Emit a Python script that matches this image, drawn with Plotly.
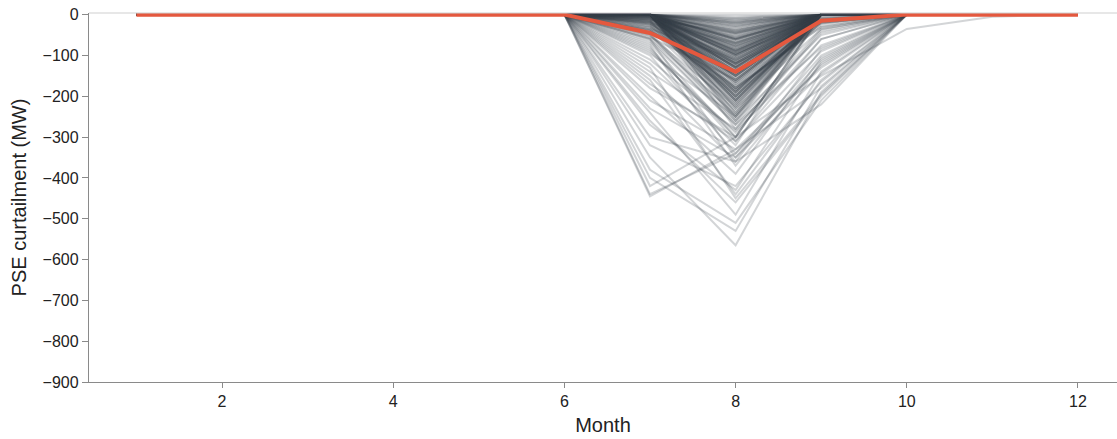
import plotly.graph_objects as go

# Months on the x axis
months = list(range(1, 13))

# Scenario curtailment (MW) for the months where it is non-zero (Jul, Aug, Sep);
# all scenarios are 0 in Jan-Jun and Dec.
jul = [
    0, 0, -3, 0, -420, 0, -12, 0, -55, 0,
    -2, 0, -180, 0, 0, -35, 0, -8, 0, -300,
    0, -25, 0, 0, -95, 0, -5, -60, 0, 0,
    -445, 0, 0, -18, 0, -140, 0, 0, -42, 0,
    0, -4, -260, 0, 0, -30, 0, -70, 0, -6,
    0, -210, 0, -15, 0, 0, -380, 0, -48, 0,
    -10, 0, 0, -120, 0, -22, 0, 0, -75, 0,
    0, -350, 0, -2, -38, 0, 0, -160, 0, -20,
    0, 0, -65, 0, -7, 0, -240, 0, 0, -28,
    -100, 0, -3, 0, -52, 0, 0, -400, 0, -14,
    0, -45, 0, -200, 0, -9, 0, -32, 0, 0,
    -320, 0, -16, 0, 0, -85, 0, -4, -150, 0,
    0, -24, 0, 0, -440, 0, -58, 0, -11, 0,
    -110, 0, 0, -40, 0, -270, 0, -6, 0, -19,
    0, -80, -1, 0, -230, 0, -36, 0, -130, 0,
    0, 0, -5, 0, -20, 0, 0, -30, 0, -10,
    0, -15, 0, 0, -40, 0, -8, 0, 0, -25,
    0, 0, -12, 0, -50, 0, 0, -3, 0, -18,
    -90, 0, 0, -6, 0, -35, 0, 0, -22, 0,
    0, -170, 0, 0, -14, 0, -2, 0, -60, 0,
]
aug = [
    -60, -120, -35, -90, -300, -150, -45, -210, -160, -20,
    -75, -130, -300, -8, -240, -110, -55, -95, -180, -360,
    -140, -200, -30, -65, -250, -115, -85, -350, -15, -100,
    -330, -45, -170, -125, -70, -280, -25, -190, -145, -60,
    -105, -40, -460, -80, -135, -220, -12, -300, -95, -50,
    -155, -330, -70, -120, -38, -165, -510, -90, -260, -28,
    -110, -60, -185, -320, -5, -140, -80, -230, -370, -48,
    -200, -565, -100, -75, -175, -58, -130, -440, -20, -150,
    -85, -210, -270, -40, -115, -18, -490, -160, -68, -195,
    -340, -100, -52, -125, -225, -88, 0, -530, -145, -70,
    -30, -250, -92, -390, -60, -120, -78, -180, -42, -105,
    -420, -10, -138, -62, -205, -300, -96, -55, -360, -130,
    -72, -165, -25, -118, -340, -44, -245, -88, -150, -35,
    -285, -82, -108, -190, -15, -430, -66, -128, -58, -215,
    -98, -310, -46, -140, -350, -76, -185, -22, -450, -112,
    -150, -200, -110, -260, -180, -90, -230, -140, -280, -120,
    -170, -210, -100, -250, -160, -190, -130, -240, -85, -220,
    -175, -145, -205, -115, -265, -135, -195, -155, -225, -105,
    -290, -165, -125, -215, -185, -235, -95, -255, -150, -200,
    -140, -310, -180, -120, -245, -160, -210, -130, -270, -190,
]
sep = [
    0, -20, 0, 0, -150, 0, 0, 0, 0, 0,
    0, -5, 0, 0, 0, 0, 0, 0, -30, -220,
    0, 0, 0, 0, 0, 0, 0, -110, 0, 0,
    -180, 0, -15, 0, 0, -45, 0, 0, 0, 0,
    0, 0, -200, 0, -10, 0, 0, 0, 0, 0,
    0, -130, 0, 0, 0, 0, -210, 0, -50, 0,
    0, 0, 0, 0, 0, 0, 0, -35, -120, 0,
    -12, -190, 0, 0, 0, 0, 0, -160, 0, 0,
    0, 0, -80, 0, 0, 0, -140, 0, 0, -18,
    -100, 0, 0, 0, 0, 0, 0, -175, 0, 0,
    0, 0, 0, -105, 0, 0, 0, -22, 0, 0,
    -165, 0, 0, 0, -8, 0, 0, 0, -85, 0,
    0, 0, 0, -14, -125, 0, 0, 0, 0, 0,
    -75, 0, 0, 0, 0, -115, 0, 0, 0, 0,
    0, -60, 0, 0, -145, 0, -20, 0, -195, 0,
    0, 0, -10, 0, -25, 0, 0, 0, -40, 0,
    0, 0, 0, -15, 0, 0, -5, 0, 0, 0,
    -30, 0, 0, 0, 0, -20, 0, 0, 0, 0,
    -60, 0, 0, 0, 0, 0, -12, 0, 0, 0,
    0, -90, 0, 0, 0, 0, 0, 0, -35, 0,
]
# Oct / Nov: only one scenario is non-zero
oct_nonzero_index = 4
oct_value = -35
nov_value = -5

# Mean across scenarios (red line)
mean_curtailment = [0, 0, 0, 0, 0, 0, -45, -140, -15, 0, 0, 0]

fig = go.Figure()

n = len(jul)
for i in range(n):
    oc = oct_value if i == oct_nonzero_index else 0
    nv = nov_value if i == oct_nonzero_index else 0
    y = [0, 0, 0, 0, 0, 0, jul[i], aug[i], sep[i], oc, nv, 0]
    fig.add_trace(go.Scatter(
        x=months, y=y, mode="lines",
        line=dict(color="rgba(56,62,74,0.22)", width=2),
        showlegend=False, hoverinfo="skip",
    ))

fig.add_trace(go.Scatter(
    x=months, y=mean_curtailment, mode="lines",
    line=dict(color="#E4583E", width=4),
    showlegend=False,
))

fig.add_shape(type="line", xref="paper", yref="paper", x0=0, x1=1, y0=1, y1=1,
              line=dict(color="#cfcfcf", width=1.2))

font_family = "Liberation Sans, Arial, Helvetica, sans-serif"
fig.update_layout(
    width=1117, height=439,
    margin=dict(l=89, r=0, t=13, b=57),
    plot_bgcolor="white", paper_bgcolor="white",
    font=dict(family=font_family, color="#222222", size=16),
    xaxis=dict(
        range=[0.446, 12.456],
        tickmode="array", tickvals=[2, 4, 6, 8, 10, 12],
        showgrid=False, zeroline=False,
        showline=True, linecolor="#8a8a8a", linewidth=1.3,
        ticks="outside", ticklen=5, tickcolor="#8a8a8a", tickwidth=1.3,
        tickfont=dict(size=16),
        title=dict(text="Month", font=dict(size=20), standoff=8),
    ),
    yaxis=dict(
        range=[-900, 4],
        tickmode="array", tickvals=list(range(-900, 1, 100)),
        showgrid=False, zeroline=False,
        showline=True, linecolor="#8a8a8a", linewidth=1.3,
        ticks="outside", ticklen=6, tickcolor="#8a8a8a", tickwidth=1.3,
        tickfont=dict(size=16),
        title=dict(text="PSE curtailment (MW)", font=dict(size=20), standoff=10),
    ),
)

fig.write_html("out.html",
               config={"displayModeBar": False},
               post_script="document.body.style.margin='0';document.body.style.overflow='hidden';")
